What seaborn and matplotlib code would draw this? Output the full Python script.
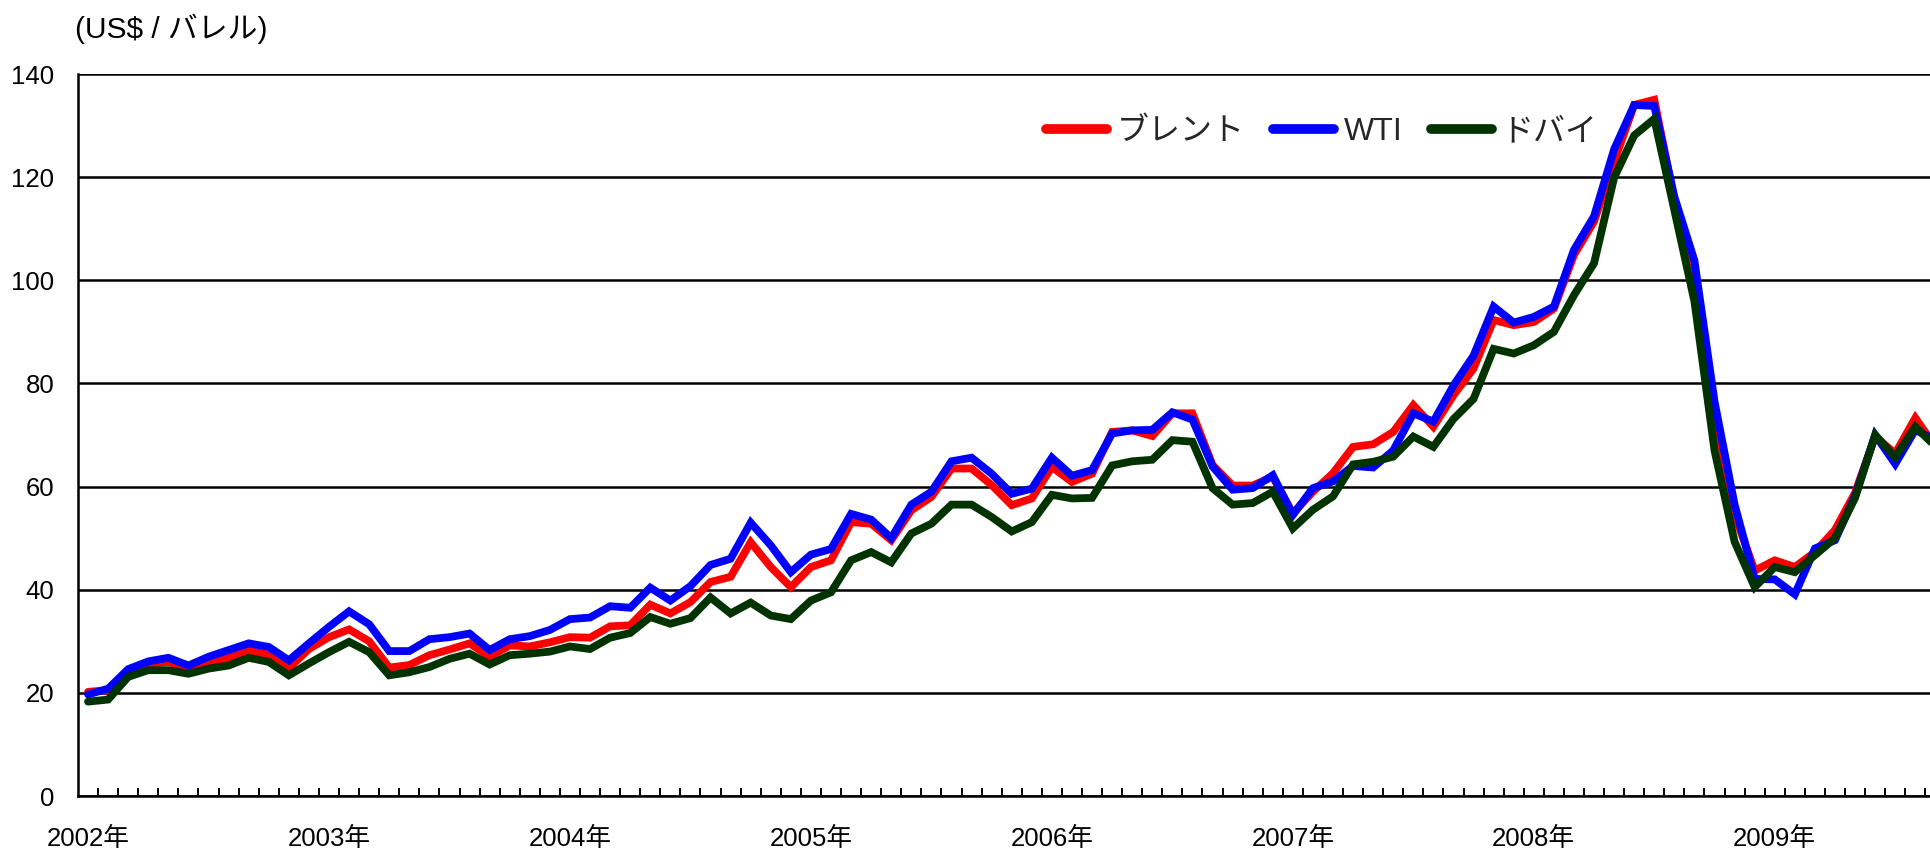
import matplotlib
matplotlib.use("Agg")
import matplotlib.pyplot as plt
import matplotlib.font_manager as fm
from matplotlib.lines import Line2D
from matplotlib.ticker import FixedLocator, NullFormatter
import numpy as np
import pandas as pd
import seaborn as sns

# Monthly crude oil spot prices (US$/barrel), Jan 2002 - Sep 2009
years = ["2002年", "2003年", "2004年", "2005年", "2006年", "2007年", "2008年", "2009年"]

brent = [
    20.2, 20.5, 24.2, 25.6, 26.0, 24.8, 25.9, 26.8, 28.2, 27.4, 24.8, 28.5,
    30.8, 32.3, 30.0, 24.9, 25.4, 27.3, 28.4, 29.6, 27.0, 29.2, 29.0, 29.8,
    30.8, 30.7, 32.9, 33.1, 37.1, 35.4, 37.6, 41.5, 42.5, 49.2, 44.4, 40.5,
    44.4, 45.7, 53.1, 52.8, 49.6, 55.4, 58.0, 63.5, 63.5, 60.3, 56.4, 57.7,
    63.8, 60.9, 62.5, 70.6, 70.9, 69.8, 74.2, 74.2, 64.2, 60.2, 60.2, 61.9,
    54.8, 59.0, 62.6, 67.7, 68.2, 70.6, 75.8, 71.6, 77.7, 82.9, 92.3, 91.3,
    91.9, 94.5, 104.9, 111.4, 123.0, 134.0, 135.0, 115.6, 102.8, 74.3, 54.6, 43.7,
    45.7, 44.4, 47.3, 51.6, 58.8, 69.7, 66.4, 73.3, 67.7,
]
wti = [
    19.7, 20.8, 24.6, 26.1, 26.8, 25.3, 27.0, 28.3, 29.6, 28.9, 26.3, 29.6,
    32.8, 35.8, 33.3, 28.1, 28.1, 30.4, 30.8, 31.5, 28.3, 30.4, 31.0, 32.2,
    34.3, 34.6, 36.8, 36.5, 40.4, 37.9, 40.7, 44.8, 46.0, 53.0, 48.6, 43.4,
    46.8, 47.9, 54.7, 53.6, 50.0, 56.5, 59.0, 64.9, 65.6, 62.5, 58.6, 59.6,
    65.6, 62.1, 63.2, 70.3, 70.9, 71.0, 74.4, 73.0, 63.9, 59.4, 59.7, 62.2,
    54.5, 59.7, 61.0, 64.0, 63.7, 67.0, 74.2, 72.6, 79.6, 85.4, 94.9, 91.8,
    92.9, 94.9, 105.9, 112.4, 125.4, 134.0, 133.8, 116.2, 103.8, 76.5, 56.5, 42.1,
    42.0, 39.1, 48.0, 49.6, 58.2, 70.0, 64.4, 71.0, 69.0,
]
dubai = [
    18.3, 18.7, 23.1, 24.4, 24.4, 23.7, 24.7, 25.3, 26.8, 26.0, 23.4, 25.7,
    27.9, 29.9, 27.9, 23.4, 24.0, 25.0, 26.6, 27.6, 25.5, 27.3, 27.6, 28.0,
    29.0, 28.5, 30.7, 31.6, 34.7, 33.4, 34.5, 38.5, 35.4, 37.5, 35.0, 34.3,
    37.9, 39.5, 45.7, 47.3, 45.3, 50.9, 52.8, 56.5, 56.5, 54.1, 51.3, 53.1,
    58.4, 57.7, 57.8, 64.1, 64.9, 65.2, 69.0, 68.7, 59.7, 56.5, 56.8, 59.0,
    51.9, 55.5, 58.1, 64.3, 64.8, 65.8, 69.7, 67.7, 73.1, 77.0, 86.7, 85.8,
    87.4, 90.0, 97.1, 103.3, 119.9, 128.1, 131.3, 113.6, 95.9, 67.0, 49.3, 40.5,
    44.4, 43.4, 46.7, 50.0, 57.8, 70.0, 65.7, 71.6, 67.8,
]
series_names = ["ブレント", "WTI", "ドバイ"]
colors = ["#FF0000", "#0000FF", "#003300"]

sns.set_theme(style="white")
names = {f.name for f in fm.fontManager.ttflist}
latin = "Liberation Sans" if "Liberation Sans" in names else "DejaVu Sans"
plt.rcParams["font.family"] = [latin, "Noto Sans CJK JP", "DejaVu Sans"]

month = np.arange(len(wti))
df = pd.DataFrame({"month": month, series_names[0]: brent,
                   series_names[1]: wti, series_names[2]: dubai})
long = df.melt(id_vars="month", var_name="series", value_name="price")

W, H = 1931, 848
fig = plt.figure(figsize=(W / 100, H / 100), dpi=100)
ax_left, ax_bottom, ax_top = 78, 796, 74
ax = fig.add_axes([ax_left / W, (H - ax_bottom) / H,
                   (W - ax_left) / W, (ax_bottom - ax_top) / H])

sns.lineplot(data=long, x="month", y="price", hue="series",
             hue_order=series_names, palette=colors, linewidth=5.6,
             sort=False, legend=False, ax=ax, solid_joinstyle="miter")

px_per_month = 20.08
ax.set_xlim(-0.5, -0.5 + (W - ax_left) / px_per_month)
ax.set_ylim(0, 140)
ax.set_yticks(np.arange(0, 141, 20))
ax.yaxis.grid(True, color="black", linewidth=1.8)
ax.xaxis.grid(False)
ax.set_axisbelow(True)

ax.set_xticks(np.arange(0, len(wti), 12))
ax.set_xticklabels(years)
ax.xaxis.set_minor_locator(FixedLocator(np.arange(0.5, 100, 1)))
ax.xaxis.set_minor_formatter(NullFormatter())
ax.tick_params(axis="x", which="major", length=0, pad=22, labelsize=18.5,
               colors="black")
ax.tick_params(axis="x", which="minor", direction="in", length=5.5,
               width=1.4, color="black", bottom=True)
ax.tick_params(axis="y", length=0, pad=17, labelsize=18.5, colors="black")
ax.set_xlabel("")
ax.set_ylabel("")

for side in ["top", "right"]:
    ax.spines[side].set_visible(False)
for side in ["left", "bottom"]:
    ax.spines[side].set_color("black")
    ax.spines[side].set_linewidth(1.8)

fig.text(75 / W, (H - 29) / H, "(US$ / バレル)", fontsize=21.5,
         ha="left", va="center", color="black")

handles = [Line2D([], [], color=c, linewidth=7, solid_capstyle="round")
           for c in colors]
fig.legend(handles, series_names, loc="center", ncol=3, frameon=False,
           bbox_to_anchor=(1322 / W, (H - 132) / H), fontsize=23,
           handlelength=1.9, handletextpad=0.3, columnspacing=0.9)

fig.savefig("out.png", dpi=100, facecolor="white")
